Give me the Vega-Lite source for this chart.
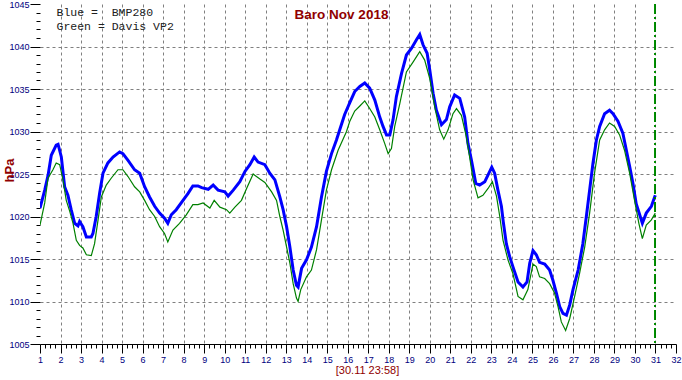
{
  "$schema": "https://vega.github.io/schema/vega-lite/v6.json",
  "width": 636,
  "height": 340,
  "autosize": "none",
  "padding": {"left": 40, "top": 4, "right": 6, "bottom": 36},
  "background": "white",
  "config": {"view": {"stroke": null}, "axis": {"labelOverlap": false, "labelFlush": false, "labelBound": false}},
  "resolve": {"axis": {"x": "independent"}},
  "data": {"values": [
    {"d":1.00,"p":1021.0,"s":"b"},{"d":1.23,"p":1023.1,"s":"b"},{"d":1.39,"p":1024.8,"s":"b"},{"d":1.55,"p":1027.2,"s":"b"},{"d":1.79,"p":1028.4,"s":"b"},{"d":1.88,"p":1028.5,"s":"b"},{"d":2.04,"p":1027.0,"s":"b"},{"d":2.20,"p":1023.5,"s":"b"},{"d":2.36,"p":1022.5,"s":"b"},{"d":2.52,"p":1020.8,"s":"b"},{"d":2.69,"p":1019.2,"s":"b"},{"d":2.85,"p":1018.9,"s":"b"},{"d":2.93,"p":1019.4,"s":"b"},{"d":3.09,"p":1018.8,"s":"b"},{"d":3.26,"p":1017.6,"s":"b"},{"d":3.50,"p":1017.6,"s":"b"},{"d":3.58,"p":1018.0,"s":"b"},{"d":3.74,"p":1020.0,"s":"b"},{"d":3.91,"p":1022.8,"s":"b"},{"d":4.07,"p":1025.1,"s":"b"},{"d":4.31,"p":1026.3,"s":"b"},{"d":4.56,"p":1027.0,"s":"b"},{"d":4.88,"p":1027.6,"s":"b"},{"d":5.04,"p":1027.4,"s":"b"},{"d":5.29,"p":1026.6,"s":"b"},{"d":5.61,"p":1025.5,"s":"b"},{"d":5.86,"p":1025.1,"s":"b"},{"d":6.10,"p":1023.5,"s":"b"},{"d":6.34,"p":1022.3,"s":"b"},{"d":6.59,"p":1021.2,"s":"b"},{"d":6.83,"p":1020.4,"s":"b"},{"d":7.07,"p":1019.8,"s":"b"},{"d":7.23,"p":1019.2,"s":"b"},{"d":7.40,"p":1020.2,"s":"b"},{"d":7.64,"p":1020.8,"s":"b"},{"d":7.97,"p":1021.9,"s":"b"},{"d":8.21,"p":1022.7,"s":"b"},{"d":8.45,"p":1023.6,"s":"b"},{"d":8.70,"p":1023.6,"s":"b"},{"d":8.88,"p":1023.4,"s":"b"},{"d":9.20,"p":1023.2,"s":"b"},{"d":9.44,"p":1023.7,"s":"b"},{"d":9.68,"p":1023.1,"s":"b"},{"d":10.01,"p":1022.9,"s":"b"},{"d":10.17,"p":1022.4,"s":"b"},{"d":10.42,"p":1023.1,"s":"b"},{"d":10.74,"p":1024.1,"s":"b"},{"d":10.99,"p":1025.3,"s":"b"},{"d":11.23,"p":1026.1,"s":"b"},{"d":11.44,"p":1027.0,"s":"b"},{"d":11.63,"p":1026.4,"s":"b"},{"d":11.96,"p":1026.1,"s":"b"},{"d":12.20,"p":1025.1,"s":"b"},{"d":12.45,"p":1024.3,"s":"b"},{"d":12.69,"p":1022.3,"s":"b"},{"d":12.85,"p":1020.8,"s":"b"},{"d":13.02,"p":1018.8,"s":"b"},{"d":13.18,"p":1016.4,"s":"b"},{"d":13.34,"p":1013.7,"s":"b"},{"d":13.50,"p":1011.9,"s":"b"},{"d":13.58,"p":1011.7,"s":"b"},{"d":13.75,"p":1013.9,"s":"b"},{"d":13.99,"p":1014.9,"s":"b"},{"d":14.23,"p":1016.4,"s":"b"},{"d":14.48,"p":1018.8,"s":"b"},{"d":14.72,"p":1022.3,"s":"b"},{"d":14.96,"p":1025.3,"s":"b"},{"d":15.21,"p":1027.4,"s":"b"},{"d":15.45,"p":1029.0,"s":"b"},{"d":15.61,"p":1030.2,"s":"b"},{"d":15.85,"p":1032.0,"s":"b"},{"d":16.10,"p":1033.4,"s":"b"},{"d":16.34,"p":1034.7,"s":"b"},{"d":16.59,"p":1035.3,"s":"b"},{"d":16.83,"p":1035.7,"s":"b"},{"d":17.07,"p":1035.1,"s":"b"},{"d":17.32,"p":1033.7,"s":"b"},{"d":17.56,"p":1031.7,"s":"b"},{"d":17.72,"p":1030.6,"s":"b"},{"d":17.89,"p":1029.6,"s":"b"},{"d":18.05,"p":1029.6,"s":"b"},{"d":18.21,"p":1031.4,"s":"b"},{"d":18.37,"p":1034.1,"s":"b"},{"d":18.62,"p":1036.8,"s":"b"},{"d":18.86,"p":1039.0,"s":"b"},{"d":19.11,"p":1039.8,"s":"b"},{"d":19.35,"p":1040.8,"s":"b"},{"d":19.51,"p":1041.4,"s":"b"},{"d":19.67,"p":1040.2,"s":"b"},{"d":19.87,"p":1039.2,"s":"b"},{"d":20.00,"p":1037.2,"s":"b"},{"d":20.16,"p":1034.5,"s":"b"},{"d":20.32,"p":1032.5,"s":"b"},{"d":20.57,"p":1030.8,"s":"b"},{"d":20.81,"p":1031.4,"s":"b"},{"d":20.97,"p":1032.9,"s":"b"},{"d":21.21,"p":1034.3,"s":"b"},{"d":21.46,"p":1033.9,"s":"b"},{"d":21.70,"p":1031.7,"s":"b"},{"d":21.86,"p":1028.6,"s":"b"},{"d":22.03,"p":1026.6,"s":"b"},{"d":22.24,"p":1023.9,"s":"b"},{"d":22.43,"p":1023.7,"s":"b"},{"d":22.68,"p":1024.1,"s":"b"},{"d":22.84,"p":1024.9,"s":"b"},{"d":23.02,"p":1025.8,"s":"b"},{"d":23.16,"p":1025.1,"s":"b"},{"d":23.32,"p":1023.1,"s":"b"},{"d":23.49,"p":1021.2,"s":"b"},{"d":23.58,"p":1019.4,"s":"b"},{"d":23.73,"p":1016.8,"s":"b"},{"d":23.89,"p":1015.3,"s":"b"},{"d":24.05,"p":1014.1,"s":"b"},{"d":24.30,"p":1012.3,"s":"b"},{"d":24.54,"p":1011.7,"s":"b"},{"d":24.74,"p":1012.3,"s":"b"},{"d":24.87,"p":1014.5,"s":"b"},{"d":25.03,"p":1016.0,"s":"b"},{"d":25.19,"p":1015.5,"s":"b"},{"d":25.35,"p":1014.6,"s":"b"},{"d":25.60,"p":1014.4,"s":"b"},{"d":25.84,"p":1013.7,"s":"b"},{"d":26.00,"p":1012.5,"s":"b"},{"d":26.17,"p":1011.0,"s":"b"},{"d":26.33,"p":1009.4,"s":"b"},{"d":26.49,"p":1008.6,"s":"b"},{"d":26.66,"p":1008.4,"s":"b"},{"d":26.82,"p":1009.6,"s":"b"},{"d":26.98,"p":1011.4,"s":"b"},{"d":27.23,"p":1013.7,"s":"b"},{"d":27.46,"p":1016.8,"s":"b"},{"d":27.63,"p":1020.0,"s":"b"},{"d":27.79,"p":1023.1,"s":"b"},{"d":27.95,"p":1026.2,"s":"b"},{"d":28.12,"p":1029.0,"s":"b"},{"d":28.28,"p":1030.6,"s":"b"},{"d":28.52,"p":1032.1,"s":"b"},{"d":28.76,"p":1032.5,"s":"b"},{"d":28.93,"p":1032.1,"s":"b"},{"d":29.17,"p":1031.2,"s":"b"},{"d":29.41,"p":1029.8,"s":"b"},{"d":29.58,"p":1027.8,"s":"b"},{"d":29.74,"p":1025.9,"s":"b"},{"d":29.90,"p":1023.9,"s":"b"},{"d":30.06,"p":1021.5,"s":"b"},{"d":30.23,"p":1020.2,"s":"b"},{"d":30.36,"p":1019.2,"s":"b"},{"d":30.55,"p":1020.4,"s":"b"},{"d":30.80,"p":1021.2,"s":"b"},{"d":30.99,"p":1022.5,"s":"b"},
    {"d":1.00,"p":1019.0,"s":"g"},{"d":1.23,"p":1021.6,"s":"g"},{"d":1.39,"p":1024.5,"s":"g"},{"d":1.63,"p":1025.5,"s":"g"},{"d":1.79,"p":1026.3,"s":"g"},{"d":1.96,"p":1026.1,"s":"g"},{"d":2.12,"p":1024.3,"s":"g"},{"d":2.28,"p":1021.9,"s":"g"},{"d":2.45,"p":1020.6,"s":"g"},{"d":2.61,"p":1019.2,"s":"g"},{"d":2.77,"p":1017.2,"s":"g"},{"d":2.93,"p":1016.6,"s":"g"},{"d":3.09,"p":1016.3,"s":"g"},{"d":3.26,"p":1015.5,"s":"g"},{"d":3.50,"p":1015.4,"s":"g"},{"d":3.66,"p":1016.8,"s":"g"},{"d":3.83,"p":1019.6,"s":"g"},{"d":3.99,"p":1022.3,"s":"g"},{"d":4.23,"p":1023.7,"s":"g"},{"d":4.47,"p":1024.5,"s":"g"},{"d":4.80,"p":1025.5,"s":"g"},{"d":5.04,"p":1025.5,"s":"g"},{"d":5.29,"p":1024.7,"s":"g"},{"d":5.61,"p":1023.5,"s":"g"},{"d":5.86,"p":1022.9,"s":"g"},{"d":6.10,"p":1021.9,"s":"g"},{"d":6.34,"p":1020.8,"s":"g"},{"d":6.59,"p":1020.0,"s":"g"},{"d":6.83,"p":1018.8,"s":"g"},{"d":7.07,"p":1018.0,"s":"g"},{"d":7.23,"p":1017.0,"s":"g"},{"d":7.48,"p":1018.4,"s":"g"},{"d":7.80,"p":1019.2,"s":"g"},{"d":8.13,"p":1020.2,"s":"g"},{"d":8.45,"p":1021.4,"s":"g"},{"d":8.70,"p":1021.4,"s":"g"},{"d":8.95,"p":1021.6,"s":"g"},{"d":9.28,"p":1021.0,"s":"g"},{"d":9.49,"p":1021.9,"s":"g"},{"d":9.77,"p":1021.1,"s":"g"},{"d":10.09,"p":1020.8,"s":"g"},{"d":10.25,"p":1020.4,"s":"g"},{"d":10.50,"p":1021.1,"s":"g"},{"d":10.82,"p":1021.9,"s":"g"},{"d":11.07,"p":1023.3,"s":"g"},{"d":11.39,"p":1025.0,"s":"g"},{"d":11.72,"p":1024.4,"s":"g"},{"d":11.96,"p":1024.0,"s":"g"},{"d":12.29,"p":1022.9,"s":"g"},{"d":12.53,"p":1021.9,"s":"g"},{"d":12.69,"p":1020.0,"s":"g"},{"d":12.85,"p":1018.4,"s":"g"},{"d":13.02,"p":1016.4,"s":"g"},{"d":13.18,"p":1014.5,"s":"g"},{"d":13.34,"p":1012.1,"s":"g"},{"d":13.50,"p":1010.4,"s":"g"},{"d":13.58,"p":1010.0,"s":"g"},{"d":13.71,"p":1011.4,"s":"g"},{"d":13.99,"p":1012.9,"s":"g"},{"d":14.23,"p":1013.7,"s":"g"},{"d":14.48,"p":1016.1,"s":"g"},{"d":14.72,"p":1019.6,"s":"g"},{"d":14.96,"p":1023.1,"s":"g"},{"d":15.21,"p":1025.5,"s":"g"},{"d":15.53,"p":1027.8,"s":"g"},{"d":15.94,"p":1030.0,"s":"g"},{"d":16.10,"p":1031.2,"s":"g"},{"d":16.34,"p":1032.4,"s":"g"},{"d":16.59,"p":1033.0,"s":"g"},{"d":16.83,"p":1033.6,"s":"g"},{"d":17.07,"p":1032.7,"s":"g"},{"d":17.32,"p":1031.7,"s":"g"},{"d":17.56,"p":1030.2,"s":"g"},{"d":17.80,"p":1028.6,"s":"g"},{"d":17.97,"p":1027.4,"s":"g"},{"d":18.13,"p":1028.0,"s":"g"},{"d":18.29,"p":1030.6,"s":"g"},{"d":18.54,"p":1033.3,"s":"g"},{"d":18.86,"p":1037.0,"s":"g"},{"d":19.19,"p":1038.2,"s":"g"},{"d":19.51,"p":1039.4,"s":"g"},{"d":19.75,"p":1038.4,"s":"g"},{"d":20.00,"p":1036.2,"s":"g"},{"d":20.24,"p":1032.9,"s":"g"},{"d":20.48,"p":1030.2,"s":"g"},{"d":20.68,"p":1029.1,"s":"g"},{"d":20.89,"p":1030.2,"s":"g"},{"d":21.13,"p":1032.1,"s":"g"},{"d":21.30,"p":1032.7,"s":"g"},{"d":21.54,"p":1031.9,"s":"g"},{"d":21.78,"p":1029.4,"s":"g"},{"d":21.94,"p":1027.0,"s":"g"},{"d":22.11,"p":1024.3,"s":"g"},{"d":22.35,"p":1022.2,"s":"g"},{"d":22.59,"p":1022.5,"s":"g"},{"d":22.84,"p":1023.3,"s":"g"},{"d":23.05,"p":1024.1,"s":"g"},{"d":23.25,"p":1022.4,"s":"g"},{"d":23.41,"p":1020.0,"s":"g"},{"d":23.57,"p":1017.2,"s":"g"},{"d":23.81,"p":1014.9,"s":"g"},{"d":24.05,"p":1013.3,"s":"g"},{"d":24.30,"p":1010.6,"s":"g"},{"d":24.54,"p":1010.2,"s":"g"},{"d":24.78,"p":1011.4,"s":"g"},{"d":25.03,"p":1014.4,"s":"g"},{"d":25.19,"p":1014.1,"s":"g"},{"d":25.35,"p":1012.9,"s":"g"},{"d":25.60,"p":1012.7,"s":"g"},{"d":25.84,"p":1012.1,"s":"g"},{"d":26.08,"p":1011.0,"s":"g"},{"d":26.25,"p":1009.4,"s":"g"},{"d":26.41,"p":1007.6,"s":"g"},{"d":26.62,"p":1006.6,"s":"g"},{"d":26.82,"p":1008.0,"s":"g"},{"d":27.06,"p":1010.6,"s":"g"},{"d":27.30,"p":1013.3,"s":"g"},{"d":27.55,"p":1016.4,"s":"g"},{"d":27.79,"p":1020.4,"s":"g"},{"d":28.03,"p":1025.1,"s":"g"},{"d":28.28,"p":1029.0,"s":"g"},{"d":28.52,"p":1030.2,"s":"g"},{"d":28.76,"p":1031.0,"s":"g"},{"d":29.01,"p":1030.6,"s":"g"},{"d":29.25,"p":1029.6,"s":"g"},{"d":29.49,"p":1027.8,"s":"g"},{"d":29.74,"p":1025.1,"s":"g"},{"d":29.98,"p":1021.9,"s":"g"},{"d":30.19,"p":1019.2,"s":"g"},{"d":30.36,"p":1017.4,"s":"g"},{"d":30.55,"p":1019.0,"s":"g"},{"d":30.80,"p":1019.6,"s":"g"},{"d":30.99,"p":1020.4,"s":"g"}
  ]},
  "layer": [
    {
      "mark": {"type": "line", "interpolate": "linear", "clip": true},
      "encoding": {
        "x": {"field": "d", "type": "quantitative",
          "scale": {"domain": [1, 32], "nice": false, "zero": false},
          "axis": {
            "orient": "bottom",
            "values": [1,1.25,1.5,1.75,2,2.25,2.5,2.75,3,3.25,3.5,3.75,4,4.25,4.5,4.75,5,5.25,5.5,5.75,6,6.25,6.5,6.75,7,7.25,7.5,7.75,8,8.25,8.5,8.75,9,9.25,9.5,9.75,10,10.25,10.5,10.75,11,11.25,11.5,11.75,12,12.25,12.5,12.75,13,13.25,13.5,13.75,14,14.25,14.5,14.75,15,15.25,15.5,15.75,16,16.25,16.5,16.75,17,17.25,17.5,17.75,18,18.25,18.5,18.75,19,19.25,19.5,19.75,20,20.25,20.5,20.75,21,21.25,21.5,21.75,22,22.25,22.5,22.75,23,23.25,23.5,23.75,24,24.25,24.5,24.75,25,25.25,25.5,25.75,26,26.25,26.5,26.75,27,27.25,27.5,27.75,28,28.25,28.5,28.75,29,29.25,29.5,29.75,30,30.25,30.5,30.75,31,31.25,31.5,31.75,32],
            "tickSize": {"condition": {"test": "datum.value % 1 === 0", "value": 9}, "value": 4},
            "tickColor": "#000000",
            "domain": true, "domainColor": "#000000",
            "grid": true, "gridColor": "#808080", "gridDash": [3, 3],
            "gridOpacity": {"condition": {"test": "datum.value % 1 === 0 && datum.value > 1 && datum.value < 32", "value": 1}, "value": 0},
            "labelExpr": "datum.value % 1 === 0 ? format(datum.value, 'd') : ''",
            "labelFlush": false, "labelOverlap": false, "labelBound": false, "labelSeparation": 0,
            "labelFont": "Liberation Sans, Arial, sans-serif",
            "labelFontSize": 9, "labelColor": "#000080", "labelPadding": 2,
            "title": "[30.11 23:58]", "titleX": 327, "titleY": 29, "titleBaseline": "alphabetic", "titleAlign": "center",
            "titleColor": "#900000", "titleFontSize": 11, "titleFontWeight": "normal",
            "titleFont": "Liberation Sans, Arial, sans-serif"
          }},
        "y": {"field": "p", "type": "quantitative",
          "scale": {"domain": [1005, 1045], "nice": false, "zero": false},
          "axis": {
            "values": [1005,1006,1007,1008,1009,1010,1011,1012,1013,1014,1015,1016,1017,1018,1019,1020,1021,1022,1023,1024,1025,1026,1027,1028,1029,1030,1031,1032,1033,1034,1035,1036,1037,1038,1039,1040,1041,1042,1043,1044,1045],
            "tickSize": {"condition": {"test": "datum.value % 5 === 0", "value": 10}, "value": 4},
            "tickColor": "#000000",
            "domain": false,
            "grid": true, "gridColor": "#808080", "gridDash": [3, 3],
            "gridOpacity": {"condition": {"test": "datum.value % 5 === 0 && datum.value > 1005 && datum.value < 1045", "value": 1}, "value": 0},
            "labelExpr": "datum.value % 5 === 0 ? format(datum.value, 'd') : ''",
            "labelOverlap": false, "labelBound": false, "labelFlush": false,
            "labelFont": "Liberation Sans, Arial, sans-serif",
            "labelFontSize": 9, "labelColor": "#000080", "labelPadding": 1,
            "title": "hPa", "titleX": -27, "titleY": 166, "titleAngle": -90, "titleBaseline": "alphabetic", "titleAlign": "center",
            "titleColor": "#900000", "titleFontSize": 13, "titleFontWeight": "bold",
            "titleFont": "Liberation Sans, Arial, sans-serif"
          }},
        "color": {"field": "s", "type": "nominal",
          "scale": {"domain": ["b", "g"], "range": ["#0000ff", "#008000"]},
          "legend": {"orient": "none", "legendX": 5, "legendY": 3.5, "title": null, "padding": 0,
            "labelExpr": "datum.label == 'b' ? 'Blue = \u00a0BMP280' : 'Green = Davis VP2'",
            "labelFont": "Liberation Mono, Courier New, monospace", "labelFontSize": 11.5, "labelColor": "#202020",
            "labelOffset": 0, "symbolSize": 0, "symbolOpacity": 0, "symbolStrokeWidth": 0, "rowPadding": 1, "labelLimit": 300}},
        "size": {"field": "s", "type": "nominal", "scale": {"domain": ["b", "g"], "range": [3, 1.2]}, "legend": null}
      }
    },
    {
      "mark": {"type": "rule", "color": "#008000", "strokeWidth": 1, "strokeDash": [10, 3, 2, 3]},
      "encoding": {"x": {"datum": 31, "axis": {
        "orient": "top", "ticks": false, "labels": false, "domain": false, "grid": false,
        "title": "Baro Nov 2018", "titleX": 301, "titleY": 14.5, "titleBaseline": "alphabetic", "titleAlign": "center",
        "titleColor": "#900000", "titleFontSize": 13.5, "titleFontWeight": "bold",
        "titleFont": "Liberation Sans, Arial, sans-serif"
      }}}
    }
  ]
}
